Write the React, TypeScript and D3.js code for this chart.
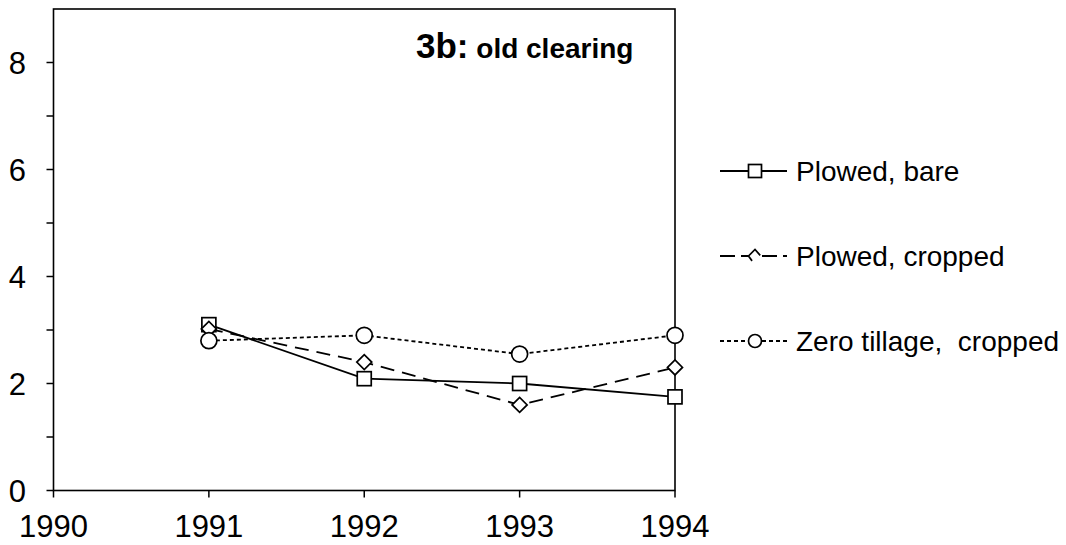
import React from "react";
import * as d3 from "d3";

const years = [1991, 1992, 1993, 1994];
const plowedBare = [3.1, 2.09, 2.0, 1.75];
const plowedCropped = [3.02, 2.4, 1.6, 2.3];
const zeroTillage = [2.8, 2.9, 2.55, 2.9];
const xTicks = [1990, 1991, 1992, 1993, 1994];
const yMajor = [0, 2, 4, 6, 8];
const yMinor = [1, 3, 5, 7];
const seriesNames = ["Plowed, bare", "Plowed, cropped", "Zero tillage,  cropped"];

const W = 1066, H = 545;
const FONT = "Arial, 'Liberation Sans', sans-serif";

function marker(kind: string, cx: number, cy: number, s: number, key?: string) {
  const h = s / 2;
  if (kind === "square")
    return <rect key={key} x={cx - h} y={cy - h} width={s} height={s} fill="#fff" stroke="#000" strokeWidth={1.7} />;
  if (kind === "circle")
    return <circle key={key} cx={cx} cy={cy} r={h} fill="#fff" stroke="#000" strokeWidth={1.7} />;
  if (kind === "diamondHalf")
    return (
      <g key={key}>
        <rect x={cx - h} y={cy - h} width={s} height={s} fill="#fff" />
        <path d={`M${cx - h * 0.45},${cy + h * 0.75}L${cx - h},${cy}L${cx},${cy - h}L${cx + h * 0.8},${cy - h * 0.1}`} fill="none" stroke="#000" strokeWidth={1.7} />
      </g>
    );
  return (
    <path key={key} d={`M${cx - h},${cy}L${cx},${cy - h}L${cx + h},${cy}L${cx},${cy + h}Z`} fill="#fff" stroke="#000" strokeWidth={1.7} />
  );
}

export default function App() {
  const x = d3.scaleLinear().domain([1990, 1994]).range([53.5, 675]);
  const y = d3.scaleLinear().domain([0, 9]).range([490.5, 9]);
  const line = d3.line<[number, number]>().x(d => x(d[0])).y(d => y(d[1]));
  const series = [
    { name: seriesNames[0], vals: plowedBare, dash: "none", legDash: "none", kind: "square", legKind: "square", size: 14 },
    { name: seriesNames[1], vals: plowedCropped, dash: "14,8", legDash: "15,6", kind: "diamond", legKind: "diamondHalf", size: 15 },
    { name: seriesNames[2], vals: zeroTillage, dash: "4,3", legDash: "4,3", kind: "circle", legKind: "circle", size: 16 },
  ];
  const legendY = [171, 256, 341];
  return (
    <svg width={W} height={H} style={{ position: "absolute", left: 0, top: 0, background: "#fff" }} fontFamily={FONT}>
      <rect x={0} y={0} width={W} height={H} fill="#fff" />
      <rect x={x(1990)} y={y(9)} width={x(1994) - x(1990)} height={y(0) - y(9)} fill="none" stroke="#000" strokeWidth={1.6} />
      {yMajor.map(v => (
        <g key={"ym" + v}>
          <line x1={x(1990) - 7} x2={x(1990)} y1={y(v)} y2={y(v)} stroke="#000" strokeWidth={1.5} />
          <text x={26} y={y(v)} dy="0.36em" textAnchor="end" fontSize={31}>{v}</text>
        </g>
      ))}
      {yMinor.map(v => (
        <line key={"yn" + v} x1={x(1990) - 7} x2={x(1990)} y1={y(v)} y2={y(v)} stroke="#000" strokeWidth={1.5} />
      ))}
      {xTicks.map(v => (
        <g key={"x" + v}>
          <line x1={x(v)} x2={x(v)} y1={y(0)} y2={y(0) + 7} stroke="#000" strokeWidth={1.5} />
          <text x={x(v)} y={y(0) + 46} textAnchor="middle" fontSize={31}>{v}</text>
        </g>
      ))}
      {series.map(s => (
        <path key={s.name} d={line(years.map((yr, i) => [yr, s.vals[i]] as [number, number])) || ""} fill="none" stroke="#000" strokeWidth={1.8} strokeDasharray={s.dash} />
      ))}
      {series.map(s => years.map((yr, i) => marker(s.kind, x(yr), y(s.vals[i]), s.size, s.name + i)))}
      <text x={416} y={58} fontWeight="bold">
        <tspan fontSize={35}>3b:</tspan>
        <tspan fontSize={28}> old clearing</tspan>
      </text>
      {series.map((s, i) => (
        <g key={"lg" + i}>
          <line x1={720} x2={787} y1={legendY[i]} y2={legendY[i]} stroke="#000" strokeWidth={1.8} strokeDasharray={s.legDash} />
          {marker(s.legKind, 755, legendY[i], 13)}
          <text x={796} y={legendY[i]} dy="0.36em" fontSize={28} style={{ whiteSpace: "pre" }}>{s.name}</text>
        </g>
      ))}
    </svg>
  );
}
